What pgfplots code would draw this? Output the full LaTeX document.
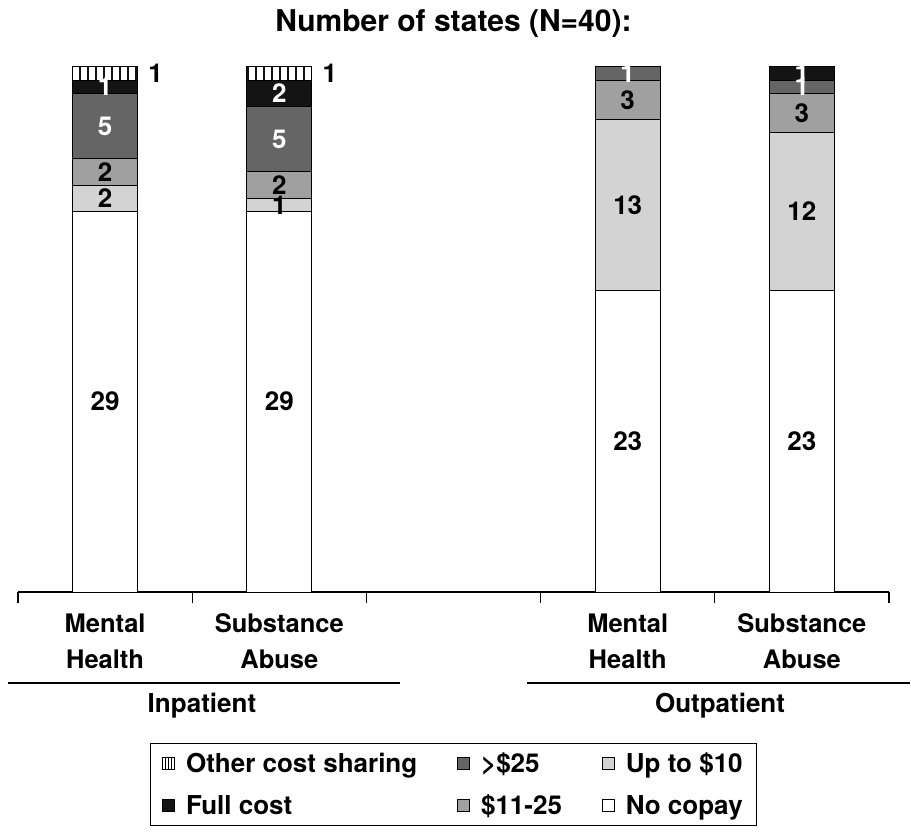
\documentclass[border=0pt]{standalone}
\usepackage{fontspec}
\setmainfont{TeX Gyre Heros}
\usepackage{pgfplots}
\pgfplotsset{compat=1.18}
\usepackage{pgfplotstable}
\usetikzlibrary{patterns.meta}
\definecolor{lgray}{HTML}{D3D3D3}
\definecolor{mgray}{HTML}{A0A0A0}
\definecolor{dgray}{HTML}{656565}
\definecolor{blk}{HTML}{141414}
\pgfplotstableread{
x nocopay upto mid high full other
0 29 2 2 5 1 1
1 29 1 2 5 2 1
3 23 13 3 1 0 0
4 23 12 3 1 1 0
}\data
\newcommand{\lab}{\fontsize{26}{36}\selectfont\bfseries}
\newcommand{\cat}{\fontsize{25.5}{36}\selectfont\bfseries}
\begin{document}
\begin{tikzpicture}
\begin{axis}[
  scale only axis, width=871pt, height=525pt,
  xmin=-0.5, xmax=4.5, ymin=0, ymax=40,
  axis x line=bottom, x axis line style={-, line width=1.3pt},
  axis y line=none,
  xtick={-0.5,0.5,1.5,2.5,3.5,4.5}, xticklabels={},
  xtick align=outside, major tick length=11pt,
  xtick style={line width=1.3pt, black},
  ybar stacked, bar width=65pt,
  clip=false,
  legend image code/.code={\draw[line width=0.8pt,#1] (0pt,-6pt) rectangle (12pt,6pt);},
  legend columns=3,
  legend cell align=left,
  legend style={at={(0.5,-0.2876)}, anchor=north, draw=black, line width=1pt,
    font=\lab,
    /tikz/every odd column/.append style={column sep=9pt},
    /tikz/every even column/.append style={column sep=38pt},
    /tikz/row sep=17pt, inner xsep=12pt, inner ysep=7pt},
]
\addplot[fill=white, draw=black, line width=1pt, forget plot] table[x=x,y=nocopay]{\data};
\addplot[fill=lgray, draw=black, line width=1pt, forget plot] table[x=x,y=upto]{\data};
\addplot[fill=mgray, draw=black, line width=1pt, forget plot] table[x=x,y=mid]{\data};
\addplot[fill=dgray, draw=black, line width=1pt, forget plot] table[x=x,y=high]{\data};
\addplot[fill=blk, draw=black, line width=1pt, forget plot] table[x=x,y=full]{\data};
\addplot[pattern={Lines[angle=90,distance=8pt,line width=2.5pt]}, pattern color=blk, draw=black, line width=1pt, forget plot] table[x=x,y=other]{\data};

\addlegendimage{draw=black, pattern={Lines[angle=90,distance=3pt,line width=0.9pt]}}
\addlegendentry{Other cost sharing}
\addlegendimage{draw=black, fill=dgray}
\addlegendentry{>\$25}
\addlegendimage{draw=black, fill=lgray}
\addlegendentry{Up to \$10}
\addlegendimage{draw=black, fill=blk}
\addlegendentry{Full cost}
\addlegendimage{draw=black, fill=mgray}
\addlegendentry{\$11-25}
\addlegendimage{draw=black, fill=white}
\addlegendentry{No copay}

% anchor points for segment labels
\coordinate (a1) at (axis cs:0,14.5);
\coordinate (a2) at (axis cs:0,30);
\coordinate (a3) at (axis cs:0,32);
\coordinate (a4) at (axis cs:0,35.5);
\coordinate (a5) at (axis cs:0,38.5);
\coordinate (a6) at (axis cs:0.29,39.5);
\coordinate (b1) at (axis cs:1,14.5);
\coordinate (b2) at (axis cs:1,29.5);
\coordinate (b3) at (axis cs:1,31);
\coordinate (b4) at (axis cs:1,34.5);
\coordinate (b5) at (axis cs:1,38);
\coordinate (b6) at (axis cs:1.29,39.5);
\coordinate (c1) at (axis cs:3,11.5);
\coordinate (c2) at (axis cs:3,29.5);
\coordinate (c3) at (axis cs:3,37.5);
\coordinate (c4) at (axis cs:3,39.5);
\coordinate (d1) at (axis cs:4,11.5);
\coordinate (d2) at (axis cs:4,29);
\coordinate (d3) at (axis cs:4,36.5);
\coordinate (d4) at (axis cs:4,38.5);
\coordinate (d5) at (axis cs:4,39.5);

% category labels
\node[font=\cat, anchor=base] at ([yshift=-40pt]axis cs:0,0) {Mental};
\node[font=\cat, anchor=base] at ([yshift=-76pt]axis cs:0,0) {Health};
\node[font=\cat, anchor=base] at ([yshift=-40pt]axis cs:1,0) {Substance};
\node[font=\cat, anchor=base] at ([yshift=-76pt]axis cs:1,0) {Abuse};
\node[font=\cat, anchor=base] at ([yshift=-40pt]axis cs:3,0) {Mental};
\node[font=\cat, anchor=base] at ([yshift=-76pt]axis cs:3,0) {Health};
\node[font=\cat, anchor=base] at ([yshift=-40pt]axis cs:4,0) {Substance};
\node[font=\cat, anchor=base] at ([yshift=-76pt]axis cs:4,0) {Abuse};
% group lines and labels
\draw[line width=1.3pt] ([yshift=-91pt]axis cs:-0.557,0) -- ([yshift=-91pt]axis cs:1.695,0);
\draw[line width=1.3pt] ([yshift=-91pt]axis cs:2.422,0) -- ([yshift=-91pt]axis cs:4.62,0);
\node[font=\lab, anchor=base] at ([yshift=-120pt]axis cs:0.556,0) {Inpatient};
\node[font=\lab, anchor=base] at ([yshift=-120pt]axis cs:3.53,0) {Outpatient};
% title
\node[font=\fontsize{30}{36}\selectfont\bfseries, anchor=base] at ([yshift=560pt]axis cs:2,0) {Number of states (N=40):};
% bounding box
\path ([xshift=-18pt,yshift=-240pt]rel axis cs:0,0) rectangle ([xshift=22pt,yshift=592pt]rel axis cs:1,0);
\end{axis}
% segment labels (drawn on top of the bars)
\begin{scope}[every node/.style={font=\lab}]
\node at (a1) {29};
\node at (a2) {2};
\node at (a3) {2};
\node[text=white] at (a4) {5};
\node[text=white] at (a5) {1};
\node at (a6) {1};
\node at (b1) {29};
\node at (b2) {1};
\node at (b3) {2};
\node[text=white] at (b4) {5};
\node[text=white] at (b5) {2};
\node at (b6) {1};
\node at (c1) {23};
\node at (c2) {13};
\node at (c3) {3};
\node[text=white] at (c4) {1};
\node at (d1) {23};
\node at (d2) {12};
\node at (d3) {3};
\node[text=white] at (d4) {1};
\node[text=white] at (d5) {1};
\end{scope}
\end{tikzpicture}
\end{document}
